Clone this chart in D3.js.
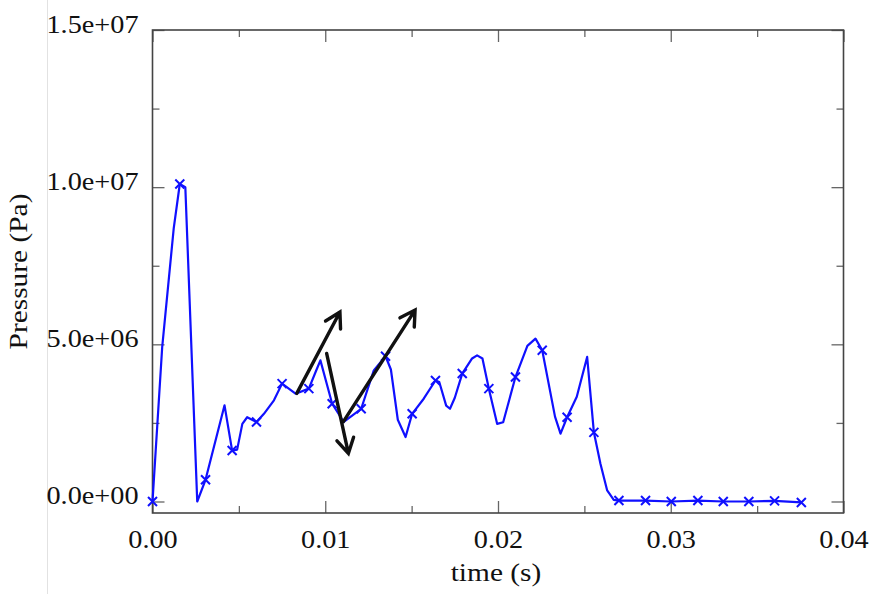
<!DOCTYPE html>
<html>
<head>
<meta charset="utf-8">
<script src="https://cdn.jsdelivr.net/npm/d3@7"></script>
<style>
    body { margin: 0; background: #fff; }
    svg text { font-family: "Liberation Serif", "Times New Roman", serif; fill: #111; }
</style>
</head>
<body>
<svg id="chart" width="880" height="594"></svg>
<script>
// pressure trace, time in s and pressure in Pa
const lineTime = [0, 0.00056, 0.00123, 0.00158, 0.0019, 0.00259, 0.00307, 0.00417, 0.00461, 0.0049,
    0.0052, 0.00548, 0.00602, 0.00645, 0.00703, 0.0075, 0.00828, 0.00905, 0.0095, 0.00972, 0.0104,
    0.01107, 0.01208, 0.01281, 0.01349, 0.0138, 0.0142, 0.01465, 0.01503, 0.0157, 0.01638, 0.0166, 0.017, 0.01722, 0.0175,
    0.01793, 0.0185, 0.01879, 0.0191, 0.01947, 0.01995, 0.0203, 0.02101, 0.0217, 0.02217, 0.02256, 0.0233, 0.02362,
    0.024, 0.02456, 0.02516, 0.02555, 0.02593, 0.02632, 0.0267, 0.027, 0.02854, 0.03003,
    0.03157, 0.03304, 0.03452, 0.03601, 0.03756];
const linePressure = [0, 4.9e6, 8.7e6, 10.1e6, 10.0e6, 0.0, 0.69e6, 3.06e6, 1.62e6, 1.65e6,
    2.47e6, 2.68e6, 2.53e6, 2.79e6, 3.22e6, 3.75e6, 3.43e6, 3.59e6, 4.2e6, 4.49e6, 3.11e6,
    2.53e6, 2.95e6, 4.17e6, 4.62e6, 4.2e6, 2.6e6, 2.05e6, 2.79e6, 3.27e6, 3.85e6, 3.8e6, 3.05e6, 2.95e6, 3.3e6,
    4.07e6, 4.55e6, 4.65e6, 4.55e6, 3.59e6, 2.47e6, 2.52e6, 3.96e6, 4.95e6, 5.18e6, 4.81e6, 2.7e6, 2.16e6,
    2.68e6, 3.33e6, 4.6e6, 2.2e6, 1.2e6, 0.35e6, 0.05e6, 0.03e6, 0.03e6, 0.0,
    0.03e6, 0.0, 0.0, 0.02e6, -0.03e6];

// points drawn with an "x"
const markerTime = [0, 0.00158, 0.00307, 0.00461, 0.00602, 0.0075, 0.00905, 0.0104, 0.01208, 0.01349,
    0.01503, 0.01638, 0.01793, 0.01947, 0.02101, 0.02256, 0.024, 0.02555, 0.027, 0.02854,
    0.03003, 0.03157, 0.03304, 0.03452, 0.03601, 0.03756];
const markerPressure = [0, 10.1e6, 0.69e6, 1.62e6, 2.53e6, 3.75e6, 3.59e6, 3.11e6, 2.95e6, 4.62e6,
    2.79e6, 3.85e6, 4.07e6, 3.59e6, 3.96e6, 4.81e6, 2.68e6, 2.2e6, 0.03e6, 0.03e6,
    0.0, 0.03e6, 0.0, 0.0, 0.02e6, -0.03e6];

// black annotation arrows: [t0, p0, t1, p1] (tail -> tip)
const arrows = [
    [0.00835, 3.44e6, 0.01085, 6.03e6],
    [0.01008, 4.71e6, 0.01134, 1.53e6],
    [0.01105, 2.54e6, 0.0152, 6.09e6]
];

const xTicks = [0, 0.01, 0.02, 0.03, 0.04];
const xTickLabels = ["0.00", "0.01", "0.02", "0.03", "0.04"];
const xMinorTicks = [0.005, 0.015, 0.025, 0.035];
const yTicks = [0, 5e6, 1e7, 1.5e7];
const yTickLabels = ["0.0e+00", "5.0e+06", "1.0e+07", "1.5e+07"];
const yMinorTicks = [2.5e6, 7.5e6, 12.5e6];

const stretch = 1.13; // the picture is a bit wider than tall

const svg = d3.select("#chart");
const plotL = 152.5, plotR = 843.5, plotT = 30, plotB = 513;

const x = d3.scaleLinear().domain([0, 0.04]).range([plotL, plotR]);
const y = d3.scaleLinear().domain([-0.366e6, 1.5e7]).range([plotB, plotT]);

// faint border left over from the source image
svg.append("line")
    .attr("x1", 47.5).attr("x2", 47.5).attr("y1", 0).attr("y2", 594)
    .attr("stroke", "#e2e2e2").attr("stroke-width", 1);

function frameAxis(axis, transform, ticks, size, labels) {
    const g = svg.append("g")
        .attr("transform", transform)
        .call(axis.tickValues(ticks).tickSizeInner(size).tickSizeOuter(0)
            .tickFormat((d, i) => labels ? labels[i] : ""));
    g.select(".domain").remove();
    g.selectAll(".tick line").attr("stroke", "#666").attr("stroke-width", 1.3);
    return g;
}

// major and minor ticks, all pointing inward
const bx = frameAxis(d3.axisBottom(x), `translate(0,${plotB})`, xTicks, -12, xTickLabels);
frameAxis(d3.axisBottom(x), `translate(0,${plotB})`, xMinorTicks, -7, null);
frameAxis(d3.axisTop(x), `translate(0,${plotT})`, xTicks, -12, null);
frameAxis(d3.axisTop(x), `translate(0,${plotT})`, xMinorTicks, -7, null);
const ly = frameAxis(d3.axisLeft(y), `translate(${plotL},0)`, yTicks, -12, yTickLabels);
frameAxis(d3.axisLeft(y), `translate(${plotL},0)`, yMinorTicks, -7, null);
frameAxis(d3.axisRight(y), `translate(${plotR},0)`, yTicks, -12, null);
frameAxis(d3.axisRight(y), `translate(${plotR},0)`, yMinorTicks, -7, null);

bx.selectAll(".tick text")
    .attr("y", 0).attr("dy", 35)
    .style("font-size", "25px");
ly.selectAll(".tick text")
    .attr("x", -14).attr("dy", 2)
    .style("font-size", "25px");

// frame
svg.append("rect")
    .attr("x", plotL).attr("y", plotT)
    .attr("width", plotR - plotL).attr("height", plotB - plotT)
    .attr("fill", "none").attr("stroke", "#444").attr("stroke-width", 1.6);

// data line
const line = d3.line()
    .x((d, i) => x(lineTime[i]))
    .y(d => y(d));

svg.append("path")
    .datum(linePressure)
    .attr("d", line)
    .attr("fill", "none")
    .attr("stroke", "#1010ff")
    .attr("stroke-width", 2.2)
    .attr("stroke-linejoin", "round");

const m = 4.5;
svg.append("g").selectAll("path")
    .data(markerPressure)
    .enter().append("path")
    .attr("d", (d, i) => {
        const cx = x(markerTime[i]), cy = y(d);
        return `M${cx - m},${cy - m}L${cx + m},${cy + m}M${cx - m},${cy + m}L${cx + m},${cy - m}`;
    })
    .attr("stroke", "#1010ff")
    .attr("stroke-width", 2);

// arrows with open heads
const headLen = 17, headAng = Math.PI / 6;
svg.append("g").selectAll("path")
    .data(arrows)
    .enter().append("path")
    .attr("d", a => {
        const x0 = x(a[0]), y0 = y(a[1]), x1 = x(a[2]), y1 = y(a[3]);
        const ang = Math.atan2(y1 - y0, x1 - x0);
        const hx1 = x1 - headLen * Math.cos(ang - headAng), hy1 = y1 - headLen * Math.sin(ang - headAng);
        const hx2 = x1 - headLen * Math.cos(ang + headAng), hy2 = y1 - headLen * Math.sin(ang + headAng);
        return `M${x0},${y0}L${x1},${y1}M${hx1},${hy1}L${x1},${y1}L${hx2},${hy2}`;
    })
    .attr("fill", "none")
    .attr("stroke", "#111")
    .attr("stroke-width", 3.4)
    .attr("stroke-linecap", "round")
    .attr("stroke-linejoin", "miter");

// axis titles
svg.append("text")
    .attr("x", (plotL + plotR) / 2 - 2).attr("y", 581)
    .attr("text-anchor", "middle")
    .style("font-size", "26px")
    .text("time (s)");

svg.append("text")
    .attr("transform", `translate(27,${(plotT + plotB) / 2}) rotate(-90)`)
    .attr("text-anchor", "middle")
    .style("font-size", "26px")
    .text("Pressure (Pa)");

// widen every text a little to match the source proportions
svg.selectAll("text").each(function() {
    const len = this.getComputedTextLength();
    if (len > 0) {
        d3.select(this).attr("textLength", len * stretch).attr("lengthAdjust", "spacingAndGlyphs");
    }
});
</script>
</body>
</html>
